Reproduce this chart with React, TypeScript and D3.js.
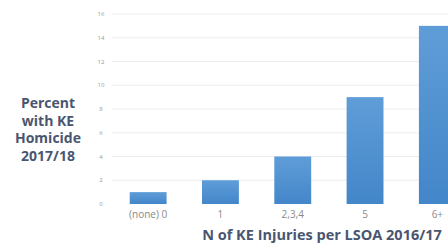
import React, { useRef, useEffect } from 'react'
import * as d3 from 'd3'

const categories = ['(none) 0', '1', '2,3,4', '5', '6+']
const values = [1, 2, 4, 9, 15]
const yTicks = [0, 2, 4, 6, 8, 10, 12, 14, 16]
const yTitle = ['Percent', 'with KE', 'Homicide', '2017/18']
const xTitle = 'N of KE Injuries per LSOA 2016/17'

const App = () => {
  const svgRef = useRef<SVGSVGElement>(null)

  const width = 448
  const height = 246
  const margin = { top: 14, left: 112, bottom: 42 }
  const plotBottom = height - margin.bottom

  useEffect(() => {
    const svg = d3.select(svgRef.current)
    svg.selectAll('*').remove()

    const x = d3
      .scaleBand()
      .domain(categories)
      .range([margin.left, margin.left + 5 * 72.3])
      .paddingInner(0.49)
      .paddingOuter(0.245)

    const y = d3.scaleLinear().domain([0, 16]).range([plotBottom, margin.top])

    const grad = svg
      .append('defs')
      .append('linearGradient')
      .attr('id', 'barGrad')
      .attr('x1', 0)
      .attr('y1', 0)
      .attr('x2', 0)
      .attr('y2', 1)
    grad.append('stop').attr('offset', '0%').attr('stop-color', '#5f9dd8')
    grad.append('stop').attr('offset', '100%').attr('stop-color', '#4386c9')

    // gridlines
    svg
      .append('g')
      .selectAll('line')
      .data(yTicks.slice(1))
      .join('line')
      .attr('x1', margin.left)
      .attr('x2', width)
      .attr('y1', (d) => y(d))
      .attr('y2', (d) => y(d))
      .attr('stroke', '#ececec')
      .attr('stroke-width', 1)

    // y tick labels
    svg
      .append('g')
      .selectAll('text')
      .data(yTicks)
      .join('text')
      .attr('x', 101)
      .attr('y', (d) => y(d))
      .attr('dy', '0.35em')
      .attr('text-anchor', 'middle')
      .attr('font-size', 6)
      .attr('fill', '#999')
      .text((d) => d)

    // bars
    svg
      .append('g')
      .selectAll('rect')
      .data(values)
      .join('rect')
      .attr('x', (d, i) => x(categories[i])!)
      .attr('y', (d) => y(d))
      .attr('width', x.bandwidth())
      .attr('height', (d) => plotBottom - y(d))
      .attr('fill', 'url(#barGrad)')

    // category labels
    svg
      .append('g')
      .selectAll('text')
      .data(categories)
      .join('text')
      .attr('x', (d) => x(d)! + x.bandwidth() / 2)
      .attr('y', 218)
      .attr('text-anchor', 'middle')
      .attr('font-size', 10)
      .attr('fill', '#8a8a8a')
      .text((d) => d)

    // x title
    svg
      .append('text')
      .attr('x', 322)
      .attr('y', 240)
      .attr('text-anchor', 'middle')
      .attr('font-size', 14.5)
      .attr('font-weight', 'bold')
      .attr('fill', '#4a5670')
      .text(xTitle)

    // y title
    svg
      .append('g')
      .selectAll('text')
      .data(yTitle)
      .join('text')
      .attr('x', 48)
      .attr('y', (d, i) => 108 + i * 17.7)
      .attr('text-anchor', 'middle')
      .attr('font-size', 14)
      .attr('font-weight', 'bold')
      .attr('fill', '#4a5670')
      .text((d) => d)
  }, [])

  return (
    <svg
      ref={svgRef}
      width={width}
      height={height}
      fontFamily="'Open Sans', sans-serif"
      style={{ position: 'absolute', left: 0, top: 0, background: '#fff' }}
    />
  )
}

export default App
